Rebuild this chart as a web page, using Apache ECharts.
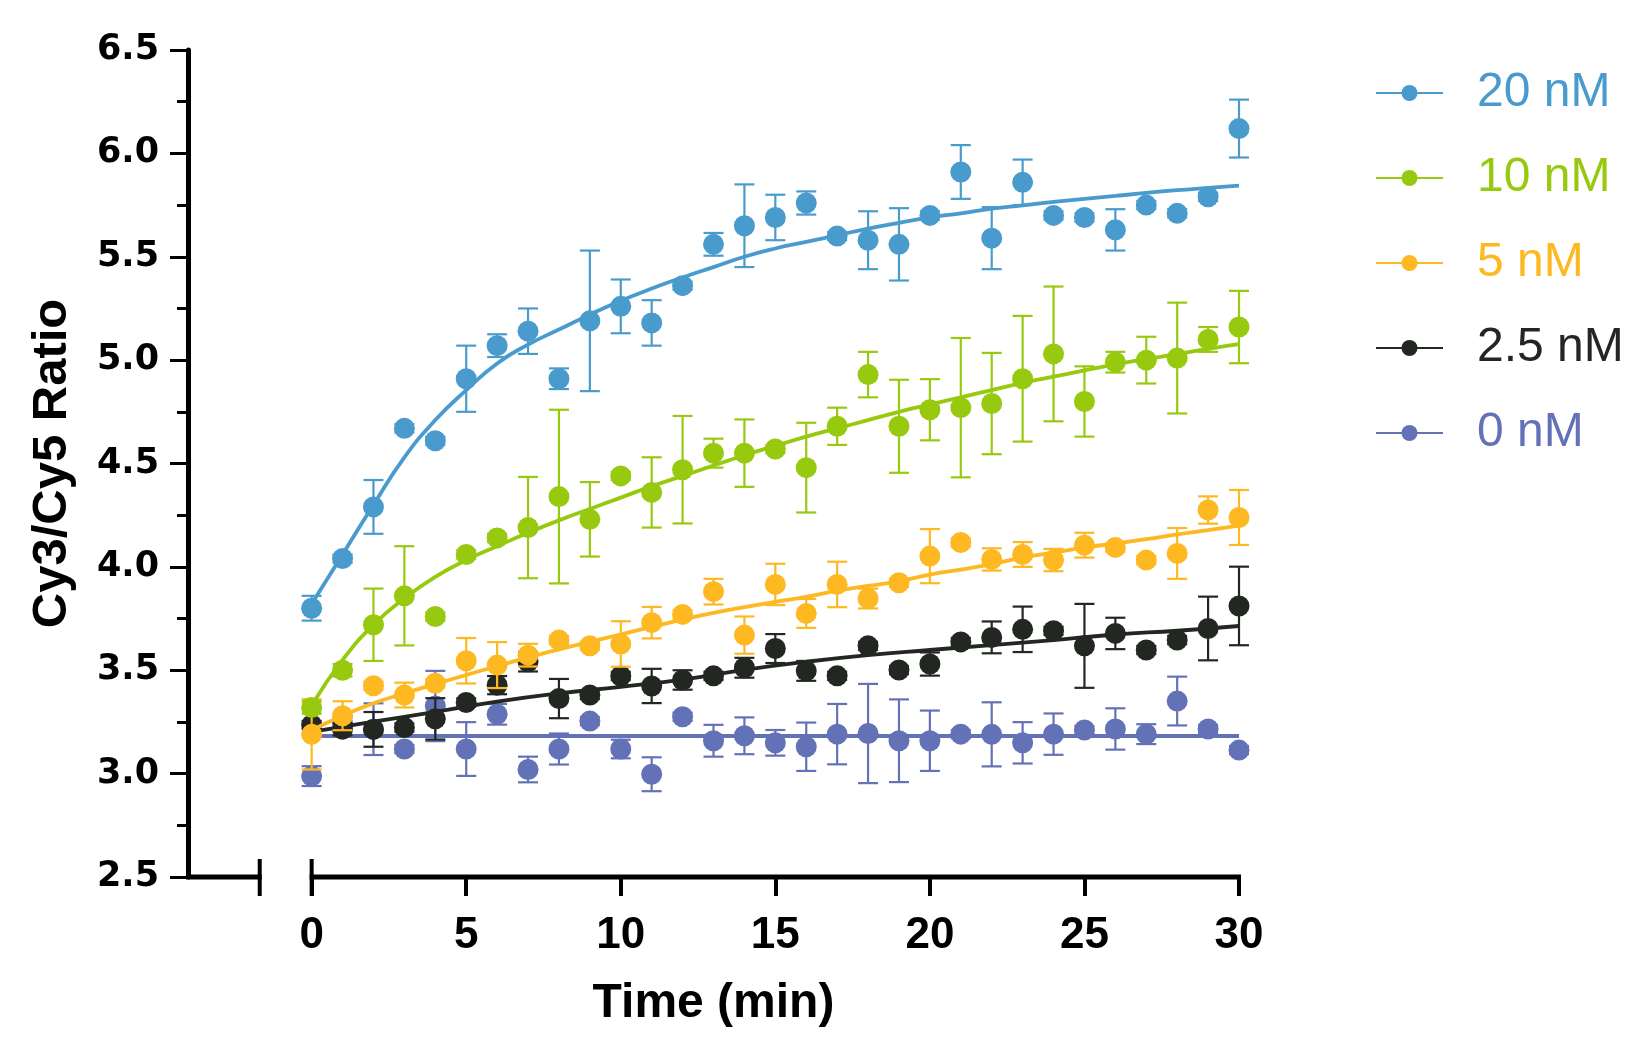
<!DOCTYPE html>
<html>
<head>
<meta charset="utf-8">
<script src="https://cdn.jsdelivr.net/npm/echarts@6/dist/echarts.min.js"></script>
<style>
html,body{margin:0;padding:0;background:#fff;}
#chart{width:1642px;height:1055px;}
</style>
</head>
<body>
<div id="chart"></div>
<script>
// ---------------- data ----------------
const times = [0,1,2,3,4,5,6,7,8,9,10,11,12,13,14,15,16,17,18,19,20,21,22,23,24,25,26,27,28,29,30];
const seriesNames = ['20 nM','10 nM','5 nM','2.5 nM','0 nM'];
const yTicks = [2.5,3.0,3.5,4.0,4.5,5.0,5.5,6.0,6.5];
const xTicks = [0,5,10,15,20,25,30];

const mean20 = [3.80,4.04,4.29,4.67,4.61,4.91,5.07,5.14,4.91,5.19,5.26,5.18,5.36,5.56,5.65,5.69,5.76,5.60,5.58,5.56,5.70,5.91,5.59,5.86,5.70,5.69,5.63,5.75,5.71,5.79,6.12];
const sem20  = [0.06,0.02,0.13,0.02,0.02,0.16,0.055,0.11,0.05,0.34,0.13,0.11,0.02,0.055,0.20,0.11,0.056,0.02,0.14,0.175,0.02,0.13,0.15,0.11,0.02,0.02,0.10,0.02,0.02,0.02,0.14];
const fitT20 = times;
const fit20  = [3.82,4.06,4.30,4.53,4.71,4.855,4.984,5.075,5.148,5.22,5.287,5.346,5.40,5.45,5.50,5.54,5.572,5.604,5.636,5.664,5.69,5.71,5.733,5.749,5.765,5.78,5.794,5.809,5.822,5.833,5.844];

const mean10 = [3.32,3.50,3.72,3.86,3.76,4.06,4.14,4.19,4.34,4.23,4.44,4.36,4.47,4.55,4.55,4.57,4.48,4.68,4.93,4.68,4.76,4.77,4.79,4.91,5.03,4.80,4.99,5.00,5.01,5.10,5.16];
const sem10  = [0.03,0.03,0.175,0.24,0.02,0.02,0.02,0.245,0.42,0.18,0.02,0.17,0.26,0.07,0.163,0.02,0.217,0.09,0.11,0.225,0.148,0.337,0.245,0.304,0.326,0.17,0.05,0.113,0.268,0.06,0.175];
const fitT10 = times;
const fit10  = [3.33,3.55,3.72,3.848,3.952,4.033,4.10,4.165,4.225,4.28,4.335,4.39,4.44,4.49,4.54,4.585,4.63,4.67,4.71,4.75,4.785,4.82,4.855,4.89,4.92,4.95,4.98,5.005,5.03,5.055,5.077];

const mean5 = [3.19,3.28,3.425,3.38,3.437,3.546,3.525,3.573,3.646,3.618,3.627,3.73,3.77,3.88,3.67,3.915,3.775,3.915,3.847,3.923,4.052,4.118,4.036,4.06,4.033,4.105,4.094,4.033,4.065,4.275,4.239];
const sem5  = [0.17,0.07,0.02,0.06,0.02,0.11,0.111,0.055,0.02,0.02,0.11,0.076,0.02,0.062,0.09,0.10,0.07,0.11,0.048,0.02,0.131,0.02,0.054,0.06,0.054,0.06,0.02,0.02,0.123,0.066,0.133];
const fitT5 = times;
const fit5  = [3.21,3.28,3.34,3.388,3.433,3.477,3.52,3.562,3.601,3.637,3.673,3.71,3.745,3.777,3.805,3.831,3.855,3.885,3.908,3.93,3.963,3.987,4.013,4.045,4.069,4.094,4.113,4.134,4.157,4.178,4.20];

const mean25 = [3.235,3.215,3.214,3.223,3.265,3.344,3.428,3.541,3.363,3.38,3.472,3.424,3.453,3.473,3.512,3.605,3.497,3.473,3.618,3.501,3.53,3.637,3.659,3.698,3.691,3.618,3.678,3.598,3.646,3.702,3.811];
const sem25  = [0.02,0.03,0.084,0.02,0.10,0.02,0.044,0.047,0.095,0.02,0.02,0.083,0.047,0.02,0.048,0.07,0.048,0.02,0.02,0.02,0.056,0.02,0.077,0.11,0.02,0.203,0.076,0.02,0.02,0.154,0.19];
const fitT25 = [0,2,4,6,8,10,12,14,16,18,20,22,24,26,28,30];
const fit25  = [3.202,3.251,3.299,3.348,3.388,3.42,3.455,3.502,3.541,3.573,3.598,3.622,3.646,3.673,3.691,3.714];

const mean0 = [2.988,3.24,3.215,3.119,3.327,3.119,3.287,3.02,3.119,3.254,3.119,2.997,3.275,3.159,3.183,3.149,3.13,3.191,3.194,3.159,3.159,3.191,3.19,3.149,3.191,3.211,3.216,3.191,3.351,3.216,3.114];
const sem0  = [0.048,0.03,0.125,0.02,0.17,0.13,0.05,0.062,0.075,0.02,0.045,0.082,0.02,0.077,0.089,0.062,0.117,0.146,0.24,0.20,0.146,0.02,0.155,0.10,0.10,0.02,0.10,0.048,0.118,0.02,0.02];
const fitT0 = [0,30];
const fit0  = [3.182,3.182];

// axis geometry (in data units): broken x axis pieces
const xAxisPieces = [[-4,-1.68],[0,30]];

// ---------------- styling ----------------
const colors = {'20 nM':'#4a9bcd','10 nM':'#97c90f','5 nM':'#fdb822','2.5 nM':'#232722','0 nM':'#6372b6'};
const groups = [
  {name:'0 nM',   mean:mean0,  sem:sem0,  fitT:fitT0,  fit:fit0},
  {name:'2.5 nM', mean:mean25, sem:sem25, fitT:fitT25, fit:fit25},
  {name:'5 nM',   mean:mean5,  sem:sem5,  fitT:fitT5,  fit:fit5},
  {name:'10 nM',  mean:mean10, sem:sem10, fitT:fitT10, fit:fit10},
  {name:'20 nM',  mean:mean20, sem:sem20, fitT:fitT20, fit:fit20}
];

function errRender(color){
  return function(params, api){
    const x = api.value(0), lo = api.value(1), hi = api.value(2);
    const pLo = api.coord([x, lo]), pHi = api.coord([x, hi]);
    const w = 10;
    const style = {stroke: color, lineWidth: 2.2, fill: null};
    return {type:'group', children:[
      {type:'line', shape:{x1:pLo[0],y1:pLo[1],x2:pHi[0],y2:pHi[1]}, style:style},
      {type:'line', shape:{x1:pLo[0]-w,y1:pLo[1],x2:pLo[0]+w,y2:pLo[1]}, style:style},
      {type:'line', shape:{x1:pHi[0]-w,y1:pHi[1],x2:pHi[0]+w,y2:pHi[1]}, style:style}
    ]};
  };
}

const series = [];
// broken x axis line
series.push({
  type:'custom', name:'xaxis', silent:true, z:1, clip:false,
  data: xAxisPieces,
  encode:{x:[0,1]},
  renderItem: function(params, api){
    const a = api.coord([api.value(0), 2.5]);
    const b = api.coord([api.value(1), 2.5]);
    const children = [
      {type:'line', shape:{x1:a[0]-2,y1:a[1],x2:b[0]+2,y2:b[1]}, style:{stroke:'#000',lineWidth:5}}
    ];
    const capX = params.dataIndex === 0 ? b[0] : a[0];
    children.push({type:'line', shape:{x1:capX,y1:a[1]-18,x2:capX,y2:a[1]+19}, style:{stroke:'#000',lineWidth:4}});
    return {type:'group', children:children};
  }
});

groups.forEach(function(g, i){
  const c = colors[g.name];
  const base = 10 + i*3;
  series.push({
    type:'line', name:g.name, z:base, smooth:true,
    data: g.fitT.map(function(t,k){ return [t, g.fit[k]]; }),
    showSymbol:false, symbol:'circle', symbolSize:16,
    lineStyle:{color:c, width:3.8}, itemStyle:{color:c}
  });
  series.push({
    type:'custom', name:g.name+' err', z:base+1, silent:true,
    data: times.map(function(t,k){ return [t, g.mean[k]-g.sem[k], g.mean[k]+g.sem[k]]; }),
    encode:{x:0, y:[1,2]},
    renderItem: errRender(c)
  });
  series.push({
    type:'scatter', name:g.name+' pts', z:base+2,
    data: times.map(function(t,k){ return [t, g.mean[k]]; }),
    symbol:'circle', symbolSize:21,
    itemStyle:{color:c, opacity:1}
  });
});

const option = {
  animation:false,
  backgroundColor:'#ffffff',
  grid:{left:188, right:403, top:50, bottom:178, containLabel:false, outerBoundsMode:'none'},
  legend:{
    orient:'vertical', left:1370, top:64,
    itemWidth:67, itemHeight:20, itemGap:37,
    data: seriesNames.map(function(n){ return {name:n, textStyle:{color:colors[n]}}; }),
    textStyle:{fontFamily:'Liberation Sans, Arial, sans-serif', fontSize:48, lineHeight:48, padding:[0,0,0,29]},
    selectedMode:false
  },
  xAxis:{
    type:'value', min:-4, max:30,
    name:'Time (min)', nameLocation:'middle', nameGap:103,
    nameTextStyle:{fontFamily:'Liberation Sans, Arial, sans-serif', fontWeight:'bold', fontSize:48, color:'#000'},
    axisLine:{show:false},
    axisTick:{show:true, customValues:xTicks, length:19, lineStyle:{color:'#000', width:4}},
    axisLabel:{show:true, customValues:xTicks, margin:37, fontFamily:'Liberation Sans, Arial, sans-serif', fontWeight:'bold', fontSize:44, color:'#000'},
    splitLine:{show:false}
  },
  yAxis:{
    type:'value', min:2.5, max:6.5, interval:0.5,
    name:'Cy3/Cy5 Ratio', nameLocation:'middle', nameGap:111, nameRotate:90,
    nameTextStyle:{fontFamily:'Liberation Sans, Arial, sans-serif', fontWeight:'bold', fontSize:49, color:'#000'},
    axisLine:{show:true, onZero:false, lineStyle:{color:'#000', width:5}},
    axisTick:{show:true, length:18, lineStyle:{color:'#000', width:3}},
    minorTick:{show:true, splitNumber:2, length:11, lineStyle:{color:'#000', width:3}},
    axisLabel:{margin:29, fontFamily:'DejaVu Sans, sans-serif', fontWeight:'bold', fontSize:35, color:'#000',
      formatter:function(v){ return v.toFixed(1); }},
    splitLine:{show:false}
  },
  series: series
};

const chart = echarts.init(document.getElementById('chart'), null, {renderer:'canvas'});
chart.setOption(option);
</script>
</body>
</html>
